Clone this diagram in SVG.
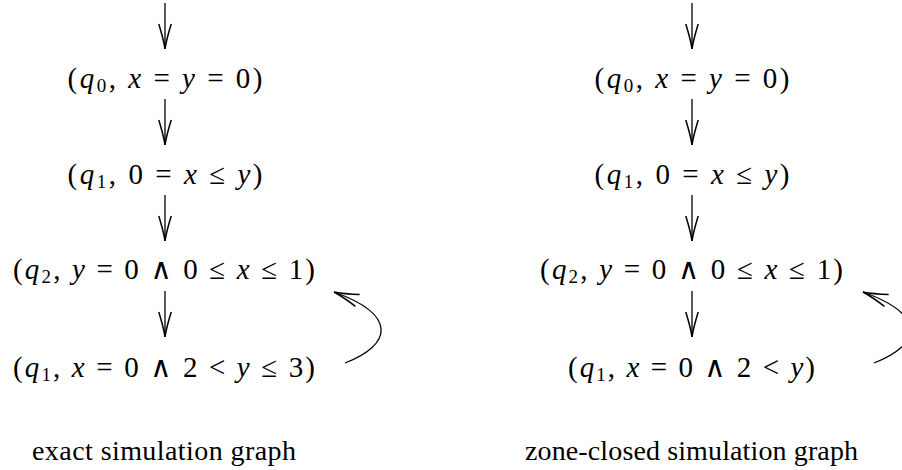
<svg xmlns="http://www.w3.org/2000/svg" width="902" height="470" viewBox="0 0 902 470">
<style>
.m{font-family:"Liberation Serif","DejaVu Serif",serif;font-size:29px;fill:#000;text-anchor:middle}
.i{font-style:italic}
.s{font-size:19px}
.cap{font-family:"Liberation Serif","DejaVu Serif",serif;font-size:28px;fill:#000;text-anchor:middle}
.e{fill:none;stroke:#000;stroke-width:1.3}
</style>
<defs>
<marker id="ah" markerUnits="userSpaceOnUse" markerWidth="30" markerHeight="20" viewBox="-22 -8 24 16" refX="0" refY="0" orient="auto">
<path d="M-20,-5 Q-8,-1.2 0,0 Q-8,1.2 -20,5" fill="none" stroke="#000" stroke-width="1.2"/>
</marker>
</defs>
<rect width="902" height="470" fill="#fff"/>
<g id="connectors">
<line class="e" x1="165" y1="3" x2="165" y2="49" marker-end="url(#ah)"/>
<line class="e" x1="165" y1="99" x2="165" y2="145" marker-end="url(#ah)"/>
<line class="e" x1="165" y1="195" x2="165" y2="241" marker-end="url(#ah)"/>
<line class="e" x1="165" y1="291" x2="165" y2="337" marker-end="url(#ah)"/>
<path class="e" d="M345,363 C392,345 398,315 334,292" marker-end="url(#ah)"/>
<line class="e" x1="692" y1="3" x2="692" y2="49" marker-end="url(#ah)"/>
<line class="e" x1="692" y1="99" x2="692" y2="145" marker-end="url(#ah)"/>
<line class="e" x1="692" y1="195" x2="692" y2="241" marker-end="url(#ah)"/>
<line class="e" x1="692" y1="291" x2="692" y2="337" marker-end="url(#ah)"/>
<path class="e" d="M874,363 C921,345 927,315 863,292" marker-end="url(#ah)"/>
</g>
<g id="L0"><text class="m" x="165" y="88" textLength="195" lengthAdjust="spacing">(<tspan class="i">q</tspan><tspan class="s" dy="4">0</tspan><tspan dy="-4">, </tspan><tspan class="i">x</tspan> = <tspan class="i">y</tspan> = 0)</text></g>
<g id="L1"><text class="m" x="165" y="184" textLength="195" lengthAdjust="spacing">(<tspan class="i">q</tspan><tspan class="s" dy="4">1</tspan><tspan dy="-4">, </tspan>0 = <tspan class="i">x</tspan> ≤ <tspan class="i">y</tspan>)</text></g>
<g id="L2"><text class="m" x="164" y="279" textLength="302" lengthAdjust="spacing">(<tspan class="i">q</tspan><tspan class="s" dy="4">2</tspan><tspan dy="-4">, </tspan><tspan class="i">y</tspan> = 0 ∧ 0 ≤ <tspan class="i">x</tspan> ≤ 1)</text></g>
<g id="L3"><text class="m" x="164" y="377" textLength="302" lengthAdjust="spacing">(<tspan class="i">q</tspan><tspan class="s" dy="4">1</tspan><tspan dy="-4">, </tspan><tspan class="i">x</tspan> = 0 ∧ 2 &lt; <tspan class="i">y</tspan> ≤ 3)</text></g>
<g id="R0"><text class="m" x="692" y="88" textLength="195" lengthAdjust="spacing">(<tspan class="i">q</tspan><tspan class="s" dy="4">0</tspan><tspan dy="-4">, </tspan><tspan class="i">x</tspan> = <tspan class="i">y</tspan> = 0)</text></g>
<g id="R1"><text class="m" x="692" y="184" textLength="195" lengthAdjust="spacing">(<tspan class="i">q</tspan><tspan class="s" dy="4">1</tspan><tspan dy="-4">, </tspan>0 = <tspan class="i">x</tspan> ≤ <tspan class="i">y</tspan>)</text></g>
<g id="R2"><text class="m" x="691.5" y="279" textLength="303" lengthAdjust="spacing">(<tspan class="i">q</tspan><tspan class="s" dy="4">2</tspan><tspan dy="-4">, </tspan><tspan class="i">y</tspan> = 0 ∧ 0 ≤ <tspan class="i">x</tspan> ≤ 1)</text></g>
<g id="R3"><text class="m" x="691.5" y="377" textLength="247" lengthAdjust="spacing">(<tspan class="i">q</tspan><tspan class="s" dy="4">1</tspan><tspan dy="-4">, </tspan><tspan class="i">x</tspan> = 0 ∧ 2 &lt; <tspan class="i">y</tspan>)</text></g>
<g id="capL"><text class="cap" x="164" y="460" textLength="264" lengthAdjust="spacing">exact simulation graph</text></g>
<g id="capR"><text class="cap" x="691.5" y="460" textLength="333" lengthAdjust="spacing">zone-closed simulation graph</text></g>
</svg>
